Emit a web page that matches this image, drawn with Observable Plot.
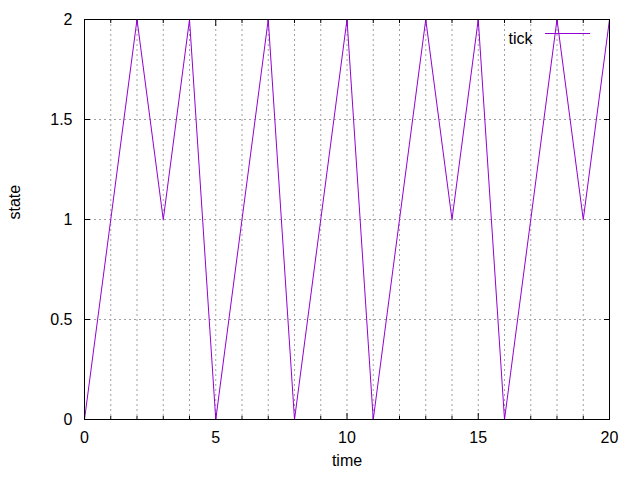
<!DOCTYPE html>
<html>
<head>
<meta charset="utf-8">
<script src="https://cdn.jsdelivr.net/npm/d3@7"></script>
<script src="https://cdn.jsdelivr.net/npm/@observablehq/plot@0.6"></script>
<style>
  html, body { margin: 0; padding: 0; background: #fff; }
  #chart svg { display: block; }
</style>
</head>
<body>
<div id="chart"></div>
<script>
const times  = [0, 1, 2, 3, 4, 5, 6, 7, 8, 9, 10, 11, 12, 13, 14, 15, 16, 17, 18, 19, 20];
const states = [0, 1, 2, 1, 2, 0, 1, 2, 0, 1, 2, 0, 1, 2, 1, 2, 0, 1, 2, 1, 2];
const xMajorTicks = [0, 5, 10, 15, 20];
const xMinorTicks = [1, 2, 3, 4, 6, 7, 8, 9, 11, 12, 13, 14, 16, 17, 18, 19];
const yTicks = [0, 0.5, 1, 1.5, 2];
const xGrid = xMinorTicks.concat([5, 10, 15]);
const yGrid = [0.5, 1, 1.5];
const seriesName = "tick";
const xLabel = "time";
const yLabel = "state";

const data = times.map((t, i) => ({time: t, state: states[i]}));
const lineColor = "#9400d3";
const gridColor = "#a0a0a0";

const chart = Plot.plot({
  width: 640,
  height: 480,
  marginLeft: 84,
  marginRight: 31,
  marginTop: 19,
  marginBottom: 61,
  style: {fontFamily: "Liberation Sans, Arial, sans-serif", fontSize: "16px", color: "#000", background: "#fff"},
  x: {domain: [0, 20]},
  y: {domain: [0, 2]},
  marks: [
    Plot.ruleX(xGrid, {stroke: gridColor, strokeDasharray: "2,3", strokeWidth: 1}),
    Plot.ruleY(yGrid, {stroke: gridColor, strokeDasharray: "2,3", strokeWidth: 1}),
    // inward ticks
    Plot.axisX({anchor: "bottom", ticks: xMajorTicks, tickSize: -6, text: null, label: null, stroke: "#000"}),
    Plot.axisX({anchor: "top", ticks: xMajorTicks, tickSize: -6, text: null, label: null, stroke: "#000"}),
    Plot.axisX({anchor: "bottom", ticks: xMinorTicks, tickSize: -3, text: null, label: null, stroke: "#000"}),
    Plot.axisX({anchor: "top", ticks: xMinorTicks, tickSize: -3, text: null, label: null, stroke: "#000"}),
    Plot.axisY({anchor: "left", ticks: yTicks, tickSize: -6, text: null, label: null, stroke: "#000"}),
    Plot.axisY({anchor: "right", ticks: yTicks, tickSize: -6, text: null, label: null, stroke: "#000"}),
    // tick labels
    Plot.axisX({anchor: "bottom", ticks: xMajorTicks, tickSize: 0, tickPadding: 12, label: null, fill: "#000", tickFormat: d => String(d)}),
    Plot.axisY({anchor: "left", ticks: yTicks, tickSize: 0, tickPadding: 12, label: null, fill: "#000", tickFormat: d => String(d)}),
    Plot.line(data, {x: "time", y: "state", stroke: lineColor, strokeWidth: 1}),
    Plot.frame({stroke: "#000", strokeWidth: 1}),
    Plot.text([xLabel], {frameAnchor: "bottom", dy: 46, text: d => d, fill: "#000"}),
    Plot.text([yLabel], {frameAnchor: "left", dx: -70, rotate: -90, text: d => d, fill: "#000"}),
    Plot.text([seriesName], {frameAnchor: "top-right", dx: -77, dy: 13, textAnchor: "end", text: d => d, fill: "#000"})
  ]
});

document.getElementById("chart").appendChild(chart);

// legend sample line
const svg = d3.select(chart);
svg.append("line")
  .attr("x1", 545).attr("x2", 590)
  .attr("y1", 33.5).attr("y2", 33.5)
  .style("stroke", lineColor)
  .style("stroke-width", "1px");
</script>
</body>
</html>
